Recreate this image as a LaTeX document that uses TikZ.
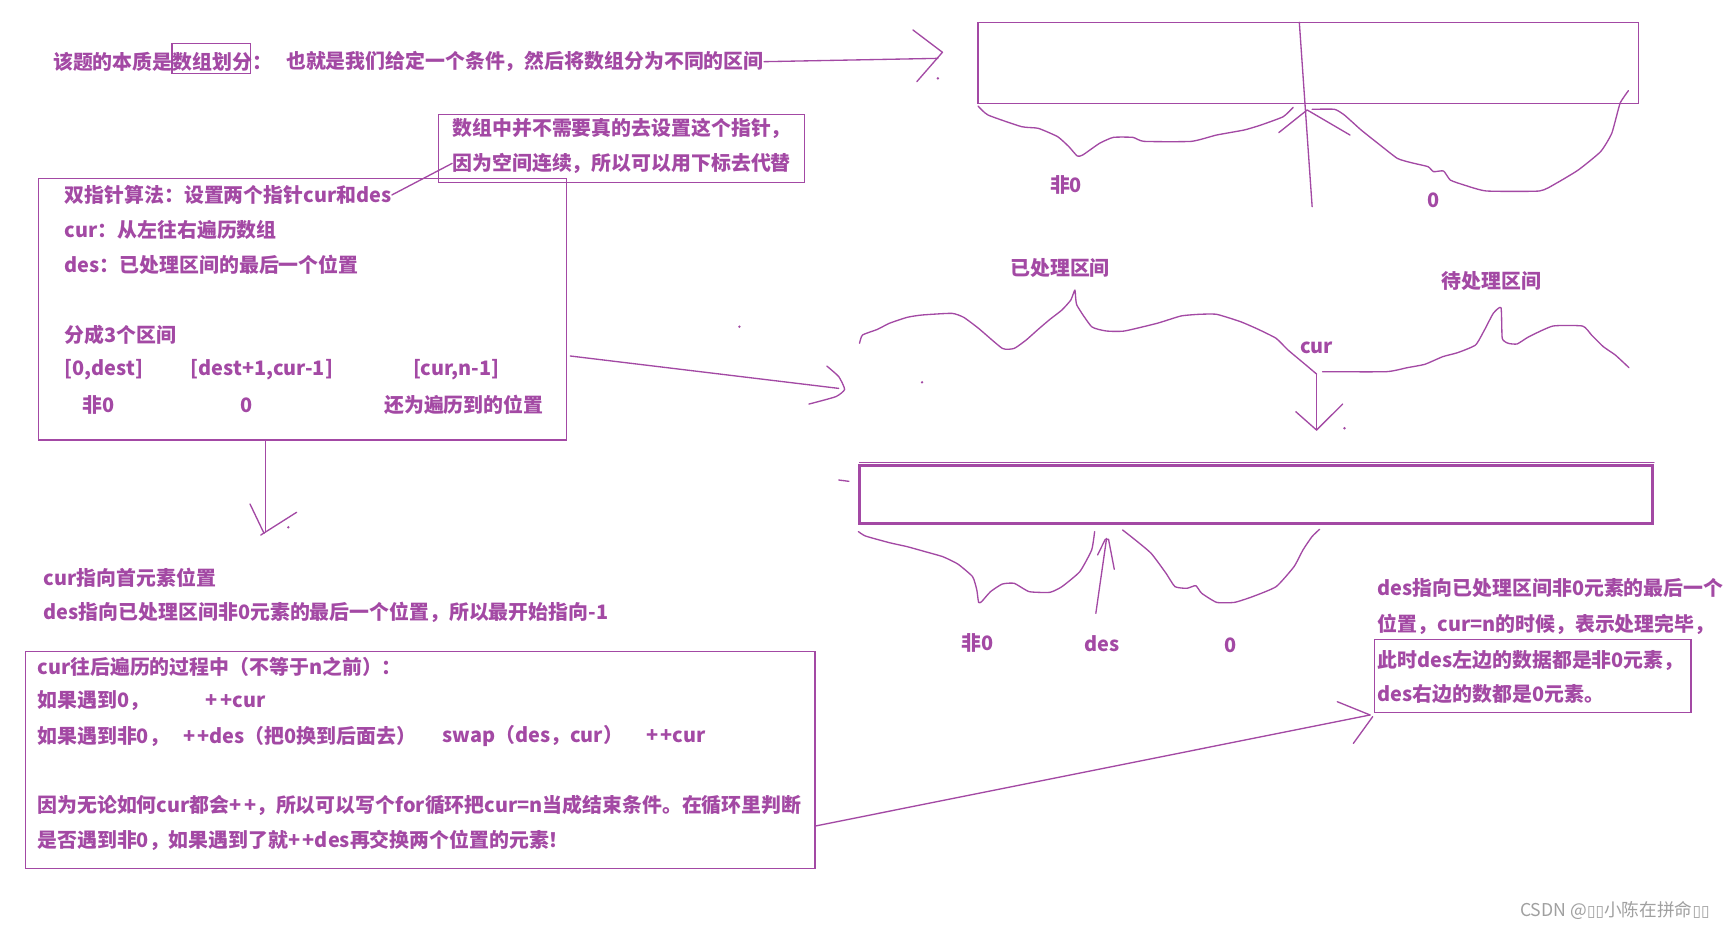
\documentclass[tikz,border=0pt]{standalone}
\usepackage{fontspec}
\setmainfont{Noto Sans CJK SC}
\newfontfamily\dejavu{DejaVu Sans}
\definecolor{pcol}{RGB}{163,73,164}
\definecolor{wmcol}{RGB}{160,160,160}
\tikzset{
  txt/.style={anchor=west, inner sep=0pt, text=pcol, font=\fontsize{9}{10}\selectfont\bfseries},
  ctxt/.style={txt, anchor=center},
  ln/.style={draw=pcol, line width=0.6pt, line cap=round, line join=round},
  boxln/.style={draw=pcol, line width=0.6pt},
  thick box/.style={draw=pcol, line width=1.4pt},
  hand/.style={ln, smooth, tension=0.3},
  speck/.style={fill=pcol, inner sep=0pt, minimum size=1.2pt, circle}
}
\newcommand{\pp}{+\kern0.12em+}
\begin{document}
\begin{tikzpicture}[x=0.5pt, y=-0.5pt]
\useasboundingbox (0,0) rectangle (1568,841);
\fill[white] (0,0) rectangle (1568,841);

% ---------- headline ----------
\node[txt] (h1) at (47.7,55.8) {该题的本质是数组划分：};
\draw[boxln] (155.6,39.2) rectangle (226.9,66.4);
\node[txt] (h2) at (258.5,55.8) {也就是我们给定一个条件，然后将数组分为不同的区间};
\coordinate (h2end) at (848.6,52.8);
\draw[ln] (h2.east) -- (h2end);
\draw[ln] (826,27.1) -- (852.7,47.3) -- (829.5,73.9);
\node[speck] (s1) at (848.6,70.9) {};

% ---------- top array ----------
\draw[boxln] (884.9,20.2) rectangle (1482.4,93.5);
\coordinate (divtop) at (1175.6,20.2);
\coordinate (divbot) at (1187.2,187);
\draw[ln] (divtop) -- (divbot);
\draw[ln] (1157,120) -- (1182.7,99.5) -- (1221.5,122.2);
\draw[hand] plot coordinates {(884.9,95.9) (894.0,104.1) (924.3,114.6) (939.4,116.1) (957.0,123.7) (967.1,132.7) (974.7,141.2) (979.7,140.2) (994.8,129.7) (1007.3,124.3) (1025.0,124.3) (1035.1,127.9) (1077.9,127.9) (1100.6,122.2) (1125.8,117.6) (1140.9,113.1) (1161.0,105.6) (1170.1,97.1)};
\draw[hand] plot coordinates {(1187.2,98.9) (1207.4,98.9) (1216.4,104.1) (1231.5,117.6) (1246.7,129.7) (1264.3,143.3) (1276.9,147.2) (1292.0,150.8) (1297.0,155.3) (1306.1,154.7) (1312.2,162.9) (1324.7,167.4) (1344.9,172.8) (1392.8,172.8) (1407.9,165.9) (1428.0,153.8) (1448.2,137.2) (1458.3,120.6) (1465.8,93.5) (1473.4,82.0)};
\node[ctxt] (tl1) at (964.5,167.4) {非0};
\node[ctxt] (tl2) at (1297,181) {0};

% ---------- note box ----------
\draw[boxln] (396.6,103.4) rectangle (727.9,165.3);
\node[txt] (n1) at (409.1,116.1) {数组中并不需要真的去设置这个指针，};
\node[txt] (n2) at (409.1,147.8) {因为空间连续，所以可以用下标去代替};

% ---------- algorithm box ----------
\draw[boxln] (34.6,161.4) rectangle (512.5,398.1);
\node[txt] (b1) at (58.2,176.4) {双指针算法：设置两个指针cur和des};
\node[txt] (b2) at (58.2,208.1) {cur：从左往右遍历数组};
\node[txt] (b3) at (58.2,239.8) {des：已处理区间的最后一个位置};
\node[txt] (b4) at (58.2,303.1) {分成3个区间};
\node[txt] (b5a) at (58.2,334.8) {[0,dest]};
\node[txt] (b5b) at (172.1,334.8) {[dest+1,cur-1]};
\node[txt] (b5c) at (373.3,334.8) {[cur,n-1]};
\node[txt] (b6a) at (74.4,366.5) {非0};
\node[txt] (b6b) at (217.5,366.5) {0};
\node[txt] (b6c) at (347.3,366.5) {还为遍历到的位置};
\draw[ln] (b1.east) -- (n2.west);

% arrow box -> middle
\coordinate (bbR) at (516,322.1);
\coordinate (midL) at (758.8,351.4);
\draw[ln] (bbR) -- (midL);
\draw[hand] plot coordinates {(748.1,331.2) (758.9,340.8) (764.2,352.3) (756.2,358.9) (731.9,365.6)};
\node[speck] (s2) at (669,295.6) {};

% arrow box -> down
\coordinate (bbB) at (240.1,398.1);
\coordinate (dnE) at (240.1,481.1);
\draw[ln] (bbB) -- (dnE);
\draw[ln] (226.2,456.0) -- (238.9,482.6);
\draw[ln] (235.9,484.1) -- (268.4,463.5);
\node[speck] (s3) at (260.9,477.1) {};

% ---------- middle braces ----------
\node[ctxt] (m1) at (959.2,242.8) {已处理区间};
\node[ctxt] (m2) at (1349.5,254.0) {待处理区间};
\node[ctxt] (m3) at (1191.2,314.3) {cur};
\draw[hand] plot coordinates {(777.7,310.6) (780.4,303.1) (793.9,298.0) (804.7,292.5) (820.8,287.1) (834.3,285.0) (861.2,283.5) (871.9,287.1) (885.4,297.1) (906.9,315.2) (917.7,315.2) (928.5,307.6) (939.3,298.0) (950.0,288.9) (960.8,280.5) (968.9,271.4) (972.6,262.4) (974.3,276.0) (987.7,295.6) (1001.2,299.5) (1017.3,299.5) (1047.0,292.5) (1068.5,285.9) (1084.6,284.4) (1100.8,284.4) (1122.3,291.0) (1138.5,298.0) (1154.6,306.1) (1165.4,316.7) (1181.5,330.2) (1191.2,338.4)};
\draw[hand] plot coordinates {(1196.6,336.3) (1254.2,336.3) (1273.1,332.7) (1289.2,329.6) (1305.4,322.7) (1318.8,319.1) (1335.0,312.2) (1343.1,298.6) (1351.1,283.5) (1358.1,278.4) (1359.2,306.1) (1364.6,310.6) (1372.7,311.2) (1383.4,304.6) (1405.0,295.0) (1431.9,295.0) (1440.0,303.1) (1450.7,313.7) (1461.5,321.2) (1473.9,332.7)};
\coordinate (curtop) at (1191.2,338.4);
\coordinate (curbot) at (1191.2,389.1);
\draw[ln] (curtop) -- (curbot);
\draw[ln] (1172.4,372.5) -- (1191.2,389.1) -- (1214.9,365.5);
\node[speck] (s4) at (834.3,345.9) {};
\node[speck] (s5) at (1216.5,387.5) {};

% ---------- bottom array ----------
\draw[ln] (777.7,418.4) -- (1496.5,418.4);
\draw[thick box] (777.7,421.2) rectangle (1495.5,473.3);
\draw[ln] (758.9,434.3) -- (768.1,435.5);
\draw[hand] plot coordinates {(776.7,481.0) (783.1,485.0) (804.7,491.0) (820.8,494.6) (837.0,499.1) (853.1,503.7) (866.6,510.3) (880.0,521.8) (883.8,533.8) (885.4,545.0) (888.1,544.4) (896.2,535.3) (906.9,528.4) (917.7,527.8) (931.2,535.3) (950.0,535.9) (960.8,530.8) (977.0,517.2) (987.7,497.6) (990.4,481.0)};
\draw[hand] plot coordinates {(1015.7,479.5) (1025.4,487.1) (1041.5,500.6) (1055.0,518.7) (1063.1,530.8) (1073.9,532.3) (1081.9,529.9) (1087.3,536.8) (1100.8,545.0) (1117.0,545.0) (1133.1,539.9) (1154.6,530.8) (1170.8,512.7) (1178.9,497.6) (1187.0,485.6) (1193.9,478.9)};
\coordinate (desbot) at (991.5,554.9);
\coordinate (destip) at (1001.2,487.1);
\draw[ln] (desbot) -- (destip);
\draw[ln] (993.1,502.1) -- (1000,488) -- (1003,488) -- (1008.2,515.1);
\node[ctxt] (d1) at (884.3,582.1) {非0};
\node[ctxt] (d2) at (997.4,582.1) {des};
\node[ctxt] (d3) at (1113.2,583.6) {0};

% ---------- right text ----------
\node[txt] (r1) at (1246.2,532.3) {des指向已处理区间非0元素的最后一个};
\node[txt] (r2) at (1246.2,564.9) {位置，cur=n的时候，表示处理完毕，};
\node[txt] (r3) at (1246.2,597.2) {此时des左边的数据都是非0元素，};
\node[txt] (r4) at (1246.2,627.9) {des右边的数都是0元素。};
\draw[boxln] (1243.5,578.5) rectangle (1529.9,644.5);

% ---------- left middle text ----------
\node[txt] (c1) at (39.3,522.7) {cur指向首元素位置};
\node[txt] (c2) at (39.3,554.3) {des指向已处理区间非0元素的最后一个位置，所以最开始指向-1};

% ---------- bottom box ----------
\draw[boxln] (23,589.6) rectangle (737.5,785.7);
\node[txt] (k1) at (33.5,603.2) {cur往后遍历的过程中（不等于n之前）：};
\node[txt] (k2a) at (33.5,634.3) {如果遇到0，};
\node[txt] (k2b) at (185.8,634.3) {\pp cur};
\node[txt] (k3a) at (33.5,666.0) {如果遇到非0，};
\node[txt] (k3b) at (165.2,666.0) {\pp des（把0换到后面去）};
\node[txt] (k3c) at (399.9,666.0) {swap（des，cur）};
\node[txt] (k3d) at (584.3,666.0) {\pp cur};
\node[txt] (k4) at (33.5,729.0) {因为无论如何cur都会\pp，所以可以写个for循环把cur=n当成结束条件。在循环里判断};
\node[txt] (k5) at (33.5,760.0) {是否遇到非0，如果遇到了就\pp des再交换两个位置的元素！};

\coordinate (kR) at (737.5,747.4);
\coordinate (rTip) at (1239.6,646.9);
\draw[ln] (kR) -- (rTip);
\draw[ln] (1210,634.9) -- (1239.6,646.9);
\draw[ln] (1242,648.4) -- (1224.5,672.6);

% ---------- watermark ----------
\node[anchor=west, inner sep=0pt, text=wmcol, font=\fontsize{8}{9}\selectfont] (wm) at (1375,823.4) {CSDN @{\dejavu\fontsize{7}{8}\selectfont ▯▯}小陈在拼命{\dejavu\fontsize{7}{8}\selectfont ▯▯}};
\end{tikzpicture}
\end{document}
